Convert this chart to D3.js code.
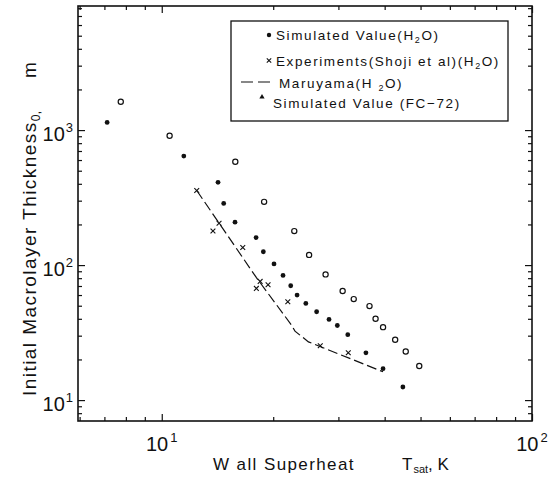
<!DOCTYPE html>
<html><head><meta charset="utf-8">
<script src="https://cdn.jsdelivr.net/npm/d3@7"></script>
<style>
html,body{margin:0;padding:0;background:#fff;}
text{font-family:"Liberation Sans",Arial,sans-serif;fill:#111;}
</style></head>
<body><svg id="c" width="556" height="479"></svg>
<script>
// ---- data ----
const simH2O = [[7.12,1140],[11.47,642],[14.19,410],[14.7,286],[15.77,208],[17.98,160],[18.81,125.5],[20.1,102],[21.26,83.9],[22.3,70.3],[23.2,60],[24.5,52],[26.2,45.1],[28.3,39.6],[29.8,35.7],[31.8,30.5],[35.6,22.4],[39.6,17.1],[44.8,12.5]];
const openSeries = [[7.75,1620],[10.5,907],[15.8,582],[18.9,294],[22.8,178.6],[25.0,119],[27.7,85.3],[30.8,64.2],[33.0,56],[36.4,49.7],[37.8,40],[39.6,34.7],[42.7,28],[45.6,22.9],[49.6,17.9]];
const experiments = [[12.43,357],[13.75,179],[14.28,204],[16.55,135],[18.01,67.2],[18.44,75.7],[19.37,71.5],[21.9,53.5],[26.8,25.3],[31.9,22.4]];
const maruyama = [[12.43,357],[18,81],[22.4,36],[22.9,32.4],[24.9,27],[39.6,16.2]];
const xMajor = [10,100];
const xMajorLabels = [["10","1"],["10","2"]];
const xMinor = [6,7,8,9,20,30,40,50,60,70,80,90];
const yMajor = [10,100,1000];
const yMajorLabels = [["10","1"],["10","2"],["10","3"]];
const yMinor = [8,9,20,30,40,50,60,70,80,90,200,300,400,500,600,700,800,900,2000,3000,4000,5000,6000,7000,8000];
const legendLabels = ["Simulated Value(H","Experiments(Shoji et al)(H","Maruyama(H ","Simulated Value (FC\u221272)"];

const svg = d3.select("#c");
const L=78,R=532,T=6,B=421;
const x = d3.scaleLog().domain([5.94,100]).range([L,R]);
const y = d3.scaleLog().domain([7,8300]).range([B,T]);

const ax = svg.append("g");
function axis(gen, vals, size, transform){
  ax.append("g").attr("transform",transform)
    .call(gen.tickValues(vals).tickSize(size).tickFormat(""))
    .call(g=>{g.select(".domain").remove(); g.selectAll("line").attr("stroke","#111").attr("stroke-width",1.2);});
}
axis(d3.axisBottom(x), xMajor, -7, `translate(0,${B})`);
axis(d3.axisBottom(x), xMinor, -4, `translate(0,${B})`);
axis(d3.axisTop(x), xMajor, -7, `translate(0,${T})`);
axis(d3.axisTop(x), xMinor, -4, `translate(0,${T})`);
axis(d3.axisLeft(y), yMajor, -7, `translate(${L},0)`);
axis(d3.axisLeft(y), yMinor, -4, `translate(${L},0)`);
axis(d3.axisRight(y), yMajor, -7, `translate(${R},0)`);
axis(d3.axisRight(y), yMinor, -4, `translate(${R},0)`);
svg.append("rect").attr("x",L).attr("y",T).attr("width",R-L).attr("height",B-T)
  .attr("fill","none").attr("stroke","#111").attr("stroke-width",1.6);

// tick labels
xMajor.forEach((v,i)=>{
  const t = svg.append("text").attr("x",x(v)).attr("y",451).attr("text-anchor","middle").attr("font-size",20);
  t.append("tspan").text(xMajorLabels[i][0]);
  t.append("tspan").attr("dy",-9).attr("dx",2).attr("font-size",13).text(xMajorLabels[i][1]);
});
yMajor.forEach((v,i)=>{
  const t = svg.append("text").attr("x",73).attr("y",y(v)+11).attr("text-anchor","end").attr("font-size",20);
  t.append("tspan").text(yMajorLabels[i][0]);
  t.append("tspan").attr("dy",-9).attr("dx",1).attr("font-size",13).text(yMajorLabels[i][1]);
});

// axis titles
const xt = svg.append("g");
xt.append("text").attr("x",213).attr("y",470).attr("font-size",17).attr("letter-spacing",1.4).attr("xml:space","preserve").text("W all Superheat");
const xt2 = xt.append("text").attr("x",402).attr("y",470).attr("font-size",17);
xt2.append("tspan").text("T");
xt2.append("tspan").attr("font-size",11).attr("dy",3).attr("dx",1).text("sat");
xt2.append("tspan").attr("dy",-3).text(", K");

const yt = svg.append("text").attr("transform","translate(36,396) rotate(-90)").attr("font-size",19).attr("letter-spacing",1.45);
yt.append("tspan").text("Initial Macrolayer Thickness");
yt.append("tspan").attr("font-size",12).attr("dy",4).attr("letter-spacing",0.5).text("0,");
svg.append("text").attr("transform","translate(36,78) rotate(-90)").attr("font-size",19).text("m");

// Maruyama dashed line
const line = d3.line().x(d=>x(d[0])).y(d=>y(d[1]));
svg.append("path").datum(maruyama).attr("d",line).attr("fill","none")
  .attr("stroke","#111").attr("stroke-width",1.2).attr("stroke-dasharray","10,4");

// open circles
svg.append("g").selectAll("circle").data(openSeries).join("circle")
  .attr("cx",d=>x(d[0])).attr("cy",d=>y(d[1])).attr("r",2.6)
  .attr("fill","#fff").attr("stroke","#111").attr("stroke-width",1.2);
// filled circles
svg.append("g").selectAll("circle").data(simH2O).join("circle")
  .attr("cx",d=>x(d[0])).attr("cy",d=>y(d[1])).attr("r",2.4).attr("fill","#111");
// crosses
const cross = s => `M${-s},${-s}L${s},${s}M${-s},${s}L${s},${-s}`;
svg.append("g").selectAll("path").data(experiments).join("path")
  .attr("transform",d=>`translate(${x(d[0])},${y(d[1])})`).attr("d",cross(2.4))
  .attr("stroke","#111").attr("stroke-width",1.1).attr("fill","none");

// legend
const lg = svg.append("g");
lg.append("rect").attr("x",231).attr("y",21).attr("width",277).attr("height",100)
  .attr("fill","#fff").attr("stroke","#111").attr("stroke-width",1.3);
const fs = 13.5, ls = 1.6;
lg.append("circle").attr("cx",269).attr("cy",35).attr("r",2.2).attr("fill","#111");
let t1 = lg.append("text").attr("x",276).attr("y",39.5).attr("font-size",fs).attr("letter-spacing",ls);
t1.append("tspan").text(legendLabels[0]);
t1.append("tspan").attr("font-size",9).attr("dy",3).text("2");
t1.append("tspan").attr("dy",-3).text("O)");

lg.append("path").attr("transform","translate(269,60.5)").attr("d",cross(2.2)).attr("stroke","#111").attr("stroke-width",1.1);
let t2 = lg.append("text").attr("x",276).attr("y",65.5).attr("font-size",fs).attr("letter-spacing",ls);
t2.append("tspan").text(legendLabels[1]);
t2.append("tspan").attr("font-size",9).attr("dy",3).text("2");
t2.append("tspan").attr("dy",-3).text("O)");

lg.append("line").attr("x1",241).attr("x2",271).attr("y1",82).attr("y2",82)
  .attr("stroke","#111").attr("stroke-width",1.2).attr("stroke-dasharray","12,5");
let t3 = lg.append("text").attr("x",279).attr("y",87.5).attr("font-size",fs).attr("letter-spacing",ls).attr("xml:space","preserve");
t3.append("tspan").text(legendLabels[2]);
t3.append("tspan").attr("font-size",9).attr("dy",3).text("2");
t3.append("tspan").attr("dy",-3).text("O)");

lg.append("path").attr("d",d3.symbol(d3.symbolTriangle,12)()).attr("transform","translate(262,97)").attr("fill","#111");
lg.append("text").attr("x",273).attr("y",107.5).attr("font-size",fs).attr("letter-spacing",ls).text(legendLabels[3]);
</script></body></html>
